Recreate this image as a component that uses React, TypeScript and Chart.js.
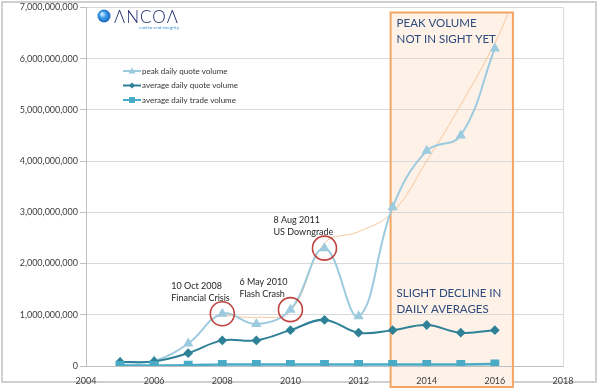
import React, { useEffect, useRef } from "react";
import { Chart, registerables } from "chart.js";

Chart.register(...registerables);

const years = [2005, 2006, 2007, 2008, 2009, 2010, 2011, 2012, 2013, 2014, 2015, 2016];
const peakDailyQuote = [70e6, 100e6, 440e6, 1020e6, 820e6, 1100e6, 2300e6, 970e6, 3100e6, 4200e6, 4500e6, 6200e6];
const avgDailyQuote = [80e6, 90e6, 250e6, 500e6, 500e6, 700e6, 900e6, 650e6, 700e6, 800e6, 650e6, 700e6];
const avgDailyTrade = [10e6, 10e6, 15e6, 30e6, 30e6, 30e6, 30e6, 30e6, 30e6, 30e6, 30e6, 40e6];
const trendYears = [2008, 2009, 2010, 2011, 2012, 2013, 2014, 2015, 2016, 2016.4];
const trendValues = [1000e6, 950e6, 1070e6, 2400e6, 2620e6, 3000e6, 4000e6, 5100e6, 6300e6, 6900e6];
const xTicks = { min: 2004, max: 2018, step: 2 };
const yTicks = { min: 0, max: 7e9, step: 1e9 };
const highlightRange = [2012.94, 2016.53];
const circledYears = [2008, 2010, 2011];
const eventLabels = [
  { year: 2008, lines: ["10 Oct 2008", "Financial Crisis"] },
  { year: 2010, lines: ["6 May 2010", "Flash Crash"] },
  { year: 2011, lines: ["8 Aug 2011", "US Downgrade"] },
];
const boxTitles = [["PEAK VOLUME", "NOT IN SIGHT YET"], ["SLIGHT DECLINE IN", "DAILY AVERAGES"]];
const legendLabels = ["peak daily quote volume", "average daily quote volume", "average daily trade volume"];

const FONT = "Lato, 'Open Sans', sans-serif";
const C_PEAK = "#9ccade";
const C_AVGQ = "#2e8196";
const C_TRADE = "#4aabc6";
const C_TREND = "#f8c999";
const C_BOX = "#f5a561";
const C_TEXT_BLUE = "#2c4a7c";

const pts = (xs: number[], ys: number[]) => xs.map((x, i) => ({ x, y: ys[i] }));

const decorPlugin = {
  id: "decor",
  beforeDraw(chart: any) {
    const { ctx, chartArea, scales } = chart;
    ctx.save();
    ctx.fillStyle = "#fff";
    ctx.fillRect(0, 0, chart.width, chart.height);
    ctx.strokeStyle = "#cfcfcf";
    ctx.lineWidth = 2;
    ctx.strokeRect(2, 2, 594, 380);
    const x0 = scales.x.getPixelForValue(highlightRange[0]);
    const x1 = scales.x.getPixelForValue(highlightRange[1]);
    const y0 = scales.y.getPixelForValue(6.9e9);
    const y1 = chartArea.bottom + 21;
    ctx.fillStyle = "#fdf1e8";
    ctx.fillRect(x0, y0, x1 - x0, y1 - y0);
    ctx.restore();
  },
  beforeDatasetsDraw(chart: any) {
    const { ctx, chartArea, scales } = chart;
    ctx.save();
    ctx.strokeStyle = "#d9d9d9";
    ctx.lineWidth = 1;
    ctx.beginPath();
    ctx.moveTo(chartArea.right + 0.5, chartArea.top);
    ctx.lineTo(chartArea.right + 0.5, chartArea.bottom);
    ctx.stroke();
    const x0 = scales.x.getPixelForValue(highlightRange[0]);
    const x1 = scales.x.getPixelForValue(highlightRange[1]);
    const y0 = scales.y.getPixelForValue(6.9e9);
    const y1 = chartArea.bottom + 21;
    ctx.strokeStyle = C_BOX;
    ctx.lineWidth = 2;
    ctx.strokeRect(x0, y0, x1 - x0, y1 - y0);
    ctx.restore();
  },
  afterDatasetsDraw(chart: any) {
    const { ctx, scales } = chart;
    ctx.save();
    ctx.strokeStyle = "#c0433f";
    ctx.lineWidth = 1.6;
    circledYears.forEach((yr) => {
      const i = years.indexOf(yr);
      const cx = scales.x.getPixelForValue(yr);
      const cy = scales.y.getPixelForValue(peakDailyQuote[i]);
      ctx.beginPath();
      ctx.arc(cx, cy, 12, 0, Math.PI * 2);
      ctx.stroke();
    });
    ctx.fillStyle = "#262626";
    ctx.font = `9px ${FONT}`;
    ctx.textBaseline = "alphabetic";
    eventLabels.forEach((ev) => {
      const i = years.indexOf(ev.year);
      const cx = scales.x.getPixelForValue(ev.year);
      const cy = scales.y.getPixelForValue(peakDailyQuote[i]);
      ev.lines.forEach((l, k) => {
        ctx.fillText(l, cx - 51, cy - 25 + k * 12);
      });
    });
    const bx = scales.x.getPixelForValue(highlightRange[0]) + 6;
    ctx.fillStyle = C_TEXT_BLUE;
    ctx.font = `11.5px ${FONT}`;
    boxTitles[0].forEach((l, k) => ctx.fillText(l, bx, 27 + k * 16));
    boxTitles[1].forEach((l, k) => ctx.fillText(l, bx, 297 + k * 16));
    const lx = 123;
    const colors = [C_PEAK, C_AVGQ, C_TRADE];
    const shapes = ["triangle", "rectRot", "rect"];
    ctx.font = `8px ${FONT}`;
    legendLabels.forEach((lab, k) => {
      const ly = 71 + k * 14.5;
      ctx.strokeStyle = colors[k];
      ctx.lineWidth = 2;
      ctx.beginPath();
      ctx.moveTo(lx, ly);
      ctx.lineTo(lx + 18, ly);
      ctx.stroke();
      ctx.fillStyle = colors[k];
      ctx.beginPath();
      const mx = lx + 9;
      if (shapes[k] === "triangle") {
        ctx.moveTo(mx, ly - 3.5);
        ctx.lineTo(mx + 3.5, ly + 2.5);
        ctx.lineTo(mx - 3.5, ly + 2.5);
      } else if (shapes[k] === "rectRot") {
        ctx.moveTo(mx, ly - 3);
        ctx.lineTo(mx + 3, ly);
        ctx.lineTo(mx, ly + 3);
        ctx.lineTo(mx - 3, ly);
      } else {
        ctx.rect(mx - 3, ly - 3, 6, 6);
      }
      ctx.closePath();
      ctx.fill();
      ctx.fillStyle = "#333";
      ctx.textBaseline = "middle";
      ctx.fillText(lab, lx + 19, ly);
    });
    const g = ctx.createRadialGradient(102, 14, 1, 104, 16, 7);
    g.addColorStop(0, "#bfe3ff");
    g.addColorStop(0.4, "#3c9be8");
    g.addColorStop(1, "#1461b8");
    ctx.fillStyle = g;
    ctx.beginPath();
    ctx.arc(104, 16, 6.5, 0, Math.PI * 2);
    ctx.fill();
    ctx.fillStyle = "#1c2868";
    ctx.font = `300 17px ${FONT}`;
    (ctx as any).letterSpacing = "1px";
    ctx.textBaseline = "alphabetic";
    ctx.fillText("ΛNCOΛ", 114, 23);
    (ctx as any).letterSpacing = "0px";
    ctx.fillStyle = "#3b8fd6";
    ctx.font = `4.5px ${FONT}`;
    ctx.fillText("end-to-end integrity", 139, 28.5);
    ctx.restore();
  },
};

export default function App() {
  const ref = useRef<HTMLCanvasElement>(null);
  useEffect(() => {
    if (!ref.current) return;
    const chart = new Chart(ref.current, {
      type: "line",
      data: {
        datasets: [
          {
            label: legendLabels[2],
            data: pts(years, avgDailyTrade),
            borderColor: C_TRADE,
            backgroundColor: C_TRADE,
            borderWidth: 2.5,
            pointStyle: "rect",
            pointRadius: 4.5,
            tension: 0.4,
          },
          {
            label: legendLabels[1],
            data: pts(years, avgDailyQuote),
            borderColor: C_AVGQ,
            backgroundColor: C_AVGQ,
            borderWidth: 2,
            pointStyle: "rectRot",
            pointRadius: 3.5,
            tension: 0.4,
          },
          {
            label: legendLabels[0],
            data: pts(years, peakDailyQuote),
            borderColor: C_PEAK,
            backgroundColor: C_PEAK,
            borderWidth: 2,
            pointStyle: "triangle",
            pointRadius: 4,
            tension: 0.4,
          },
          {
            label: "trend",
            data: pts(trendYears, trendValues),
            borderColor: C_TREND,
            borderWidth: 1,
            pointRadius: 0,
            tension: 0.4,
          },
        ],
      },
      options: {
        animation: false,
        responsive: false,
        layout: { padding: { top: 7, right: 37, left: 0, bottom: 0 } },
        plugins: { legend: { display: false }, tooltip: { enabled: false } },
        scales: {
          x: {
            type: "linear",
            min: xTicks.min,
            max: xTicks.max,
            afterBuildTicks: (s: any) => {
              const t = [];
              for (let v = xTicks.min; v <= xTicks.max; v += xTicks.step) t.push({ value: v });
              s.ticks = t;
            },
            ticks: { callback: (v: any) => String(v), font: { family: FONT, size: 9 }, color: "#404040", padding: 2, maxRotation: 0 },
            grid: { display: false },
            border: { display: true, color: "#bfbfbf" },
            afterFit: (s: any) => { s.height = 26; },
          },
          y: {
            min: yTicks.min,
            max: yTicks.max,
            ticks: {
              stepSize: yTicks.step,
              callback: (v: any) => Number(v).toLocaleString("en-US"),
              font: { family: FONT, size: 9 },
              color: "#404040",
              padding: 2,
            },
            grid: { color: "#d9d9d9", tickLength: 6, tickColor: "#bfbfbf" },
            border: { display: true, color: "#bfbfbf" },
            afterFit: (s: any) => { s.width = 86; },
          },
        },
      },
      plugins: [decorPlugin],
    } as any);
    return () => chart.destroy();
  }, []);
  return (
    <div style={{ position: "absolute", left: 0, top: 0, width: 600, height: 392 }}>
      <canvas ref={ref} width={600} height={392} style={{ width: 600, height: 392, display: "block" }} />
    </div>
  );
}
